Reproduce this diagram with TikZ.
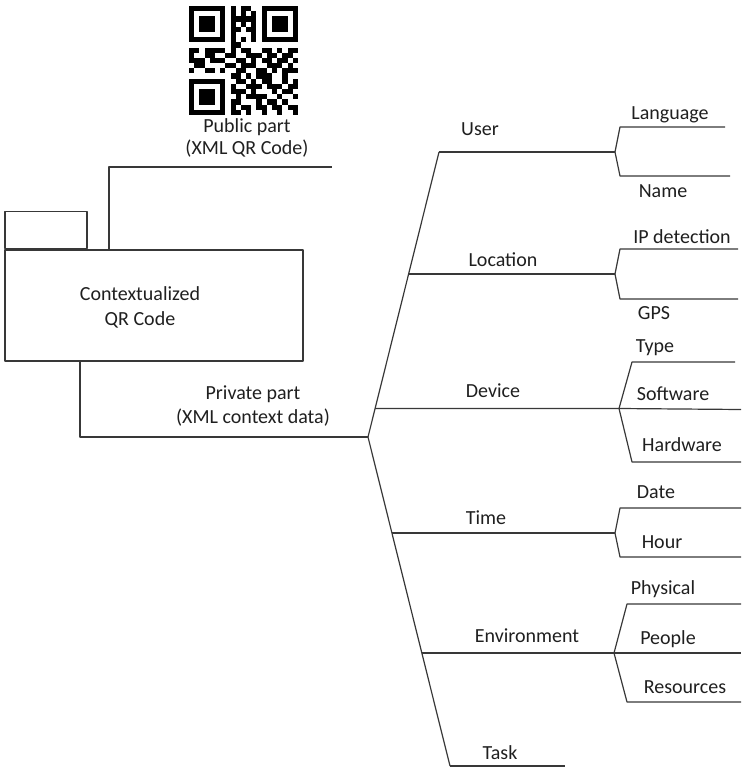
\documentclass[tikz,border=0pt]{standalone}
\usepackage{fontspec}
\setmainfont{Carlito}
\newcount\qrcol
\def\qrrow#1#2{\def\qrr{#1}\qrcol=0 \qrscan#2\relax}
\def\qrscan#1{\ifx#1\relax\else\if1#1\fill[qrdark] (\the\qrcol,-\qrr) rectangle ++(1,-1);\fi\advance\qrcol by 1 \expandafter\qrscan\fi}
\begin{document}
\begin{tikzpicture}[x=1pt,y=1pt,
  txt/.style={anchor=base,inner sep=0pt,text=black!88,font=\fontsize{20}{25}\selectfont},
  wire/.style={draw=black!78,line width=1.2pt,line join=round},
  qrdark/.style={black}]
\useasboundingbox (0,0) rectangle (741,-767);

% QR code symbol of the public part
\begin{scope}[shift={(189,-6)},x=5.19pt,y=5.19pt]
\qrrow{0}{111111101011001111111}
\qrrow{1}{100000101010101000001}
\qrrow{2}{101110101111101011101}
\qrrow{3}{101110101010101011101}
\qrrow{4}{101110101101101011101}
\qrrow{5}{100000101000101000001}
\qrrow{6}{111111101010101111111}
\qrrow{7}{000000001100000000000}
\qrrow{8}{110111101011001101011}
\qrrow{9}{100110011001110110110}
\qrrow{10}{111011100110101101101}
\qrrow{11}{011000011011100111010}
\qrrow{12}{100110100110011010111}
\qrrow{13}{000000001101011100100}
\qrrow{14}{111111100110101100101}
\qrrow{15}{100000101001110111011}
\qrrow{16}{101110101110100010110}
\qrrow{17}{101110100101111001001}
\qrrow{18}{101110101100010110100}
\qrrow{19}{100000101011011011011}
\qrrow{20}{111111101101001001001}
\end{scope}

% package symbol
\node[wire,minimum width=298pt,minimum height=111pt,inner sep=0pt] (pkg) at (154,-305.5) {};
\node[wire,minimum width=82pt,minimum height=37pt,inner sep=0pt,anchor=south west] (tab) at (pkg.north west) {};
\node[txt] (pkgA) at (140,-300) {Contextualized};
\node[txt] (pkgB) at (140,-325) {QR Code};

% public part
\coordinate (pubA) at (109,-250);
\coordinate (pubB) at (109,-167);
\coordinate (pubC) at (332,-167);
\draw[wire] (pubA) -- (pubB) -- (pubC);
\node[txt] (pubL1) at (247,-133) {Public part};
\node[txt] (pubL2) at (247,-155) {(XML QR Code)};

% private part
\coordinate (privA) at (80,-361);
\coordinate (privB) at (80,-437);
\coordinate (root) at (368,-437);
\draw[wire] (privA) -- (privB) -- (root);
\node[txt] (privL1) at (253,-399) {Private part};
\node[txt] (privL2) at (253,-423) {(XML context data)};

% trunk
\coordinate (tUser) at (439,-152);
\coordinate (tLoc) at (408.6,-274);
\coordinate (tDev) at (375.2,-408.5);
\coordinate (tTime) at (392.2,-533);
\coordinate (tEnv) at (422,-653);
\coordinate (tTask) at (450,-766);
\draw[wire] (tUser) -- (root) -- (tTask);

% User
\coordinate (bUser) at (615,-152);
\draw[wire] (tUser) -- (bUser);
\draw[wire] (bUser) -- (620,-127) -- (725,-127);
\draw[wire] (bUser) -- (620,-176) -- (730,-176);
\node[txt] (user) at (480,-136) {User};
\node[txt] (lang) at (670,-120) {Language};
\node[txt] (name) at (663,-197) {Name};

% Location
\coordinate (bLoc) at (615,-274);
\draw[wire] (tLoc) -- (bLoc);
\draw[wire] (bLoc) -- (620,-249) -- (738,-249);
\draw[wire] (bLoc) -- (620,-299) -- (738,-299);
\node[txt] (loc) at (503,-266) {Location};
\node[txt] (ip) at (682,-243) {IP detection};
\node[txt] (gps) at (654,-319) {GPS};

% Device
\coordinate (bDev) at (619,-408.5);
\draw[wire] (tDev) -- (bDev) -- (741,-409.5);
\draw[wire] (bDev) -- (632,-362) -- (735,-362);
\draw[wire] (bDev) -- (632,-462) -- (741,-462);
\node[txt] (dev) at (493,-397) {Device};
\node[txt] (type) at (655,-352) {Type};
\node[txt] (soft) at (673,-400) {Software};
\node[txt] (hard) at (682,-451) {Hardware};

% Time
\coordinate (bTime) at (615,-533);
\draw[wire] (tTime) -- (bTime);
\draw[wire] (bTime) -- (620,-508) -- (741,-508);
\draw[wire] (bTime) -- (620,-557) -- (741,-557);
\node[txt] (time) at (486,-524) {Time};
\node[txt] (date) at (656,-498) {Date};
\node[txt] (hour) at (662,-548) {Hour};

% Environment
\coordinate (bEnv) at (614,-653);
\draw[wire] (tEnv) -- (bEnv) -- (741,-653);
\draw[wire] (bEnv) -- (627,-604) -- (741,-604);
\draw[wire] (bEnv) -- (627,-702) -- (741,-702);
\node[txt] (env) at (527,-642) {Environment};
\node[txt] (phys) at (663,-594) {Physical};
\node[txt] (people) at (668,-644) {People};
\node[txt] (res) at (685,-693) {Resources};

% Task
\coordinate (eTask) at (565,-766);
\draw[wire] (tTask) -- (eTask);
\node[txt] (task) at (500,-759) {Task};
\end{tikzpicture}
\end{document}
